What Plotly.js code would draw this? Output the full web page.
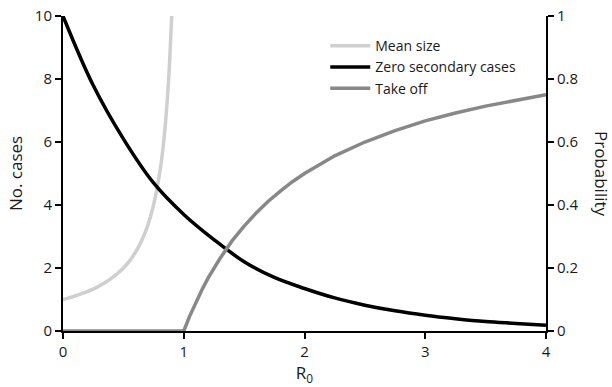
<!DOCTYPE html>
<html><head><meta charset="utf-8">
<script src="https://cdn.plot.ly/plotly-3.0.1.min.js"></script>
<style>body{margin:0;background:#fff}#c{width:612px;height:387px}</style>
</head><body><div id="c"></div>
<script>
// Mean size (left axis, No. cases)
const meanR0 = [0, 0.05, 0.1, 0.15, 0.2, 0.25, 0.3, 0.35, 0.4, 0.45, 0.5, 0.55, 0.6, 0.65, 0.7, 0.75, 0.8, 0.825, 0.85, 0.875, 0.9];
const meanSize = [1.0, 1.05, 1.11, 1.18, 1.25, 1.33, 1.43, 1.54, 1.67, 1.82, 2.0, 2.22, 2.5, 2.86, 3.33, 4.0, 5.0, 5.7, 6.67, 8.0, 10.0];
// Zero secondary cases (right axis, probability)
const zeroR0 = [0, 0.25, 0.5, 0.75, 1, 1.25, 1.5, 1.75, 2, 2.25, 2.5, 2.75, 3, 3.25, 3.5, 3.75, 4];
const zeroProb = [1.0, 0.78, 0.61, 0.47, 0.37, 0.29, 0.22, 0.17, 0.135, 0.105, 0.082, 0.064, 0.05, 0.039, 0.03, 0.024, 0.018];
// Take off (right axis, probability)
const takeR0 = [0, 0.5, 1, 1.05, 1.1, 1.15, 1.2, 1.3, 1.4, 1.5, 1.6, 1.7, 1.8, 1.9, 2, 2.25, 2.5, 2.75, 3, 3.25, 3.5, 3.75, 4];
const takeProb = [0, 0, 0, 0.048, 0.09, 0.13, 0.167, 0.23, 0.286, 0.333, 0.375, 0.412, 0.444, 0.474, 0.5, 0.556, 0.6, 0.636, 0.667, 0.692, 0.714, 0.733, 0.75];

const fam = 'Open Sans, Liberation Sans, sans-serif';
const font = {family: fam, color: '#1a1a1a', size: 15};

const traces = [
  {x: meanR0, y: meanSize, name: 'Mean size', mode: 'lines', line: {color: '#cfcfcf', width: 3.5, shape: 'spline'}, yaxis: 'y'},
  {x: zeroR0, y: zeroProb, name: 'Zero secondary cases', mode: 'lines', line: {color: '#000000', width: 3.5, shape: 'spline'}, yaxis: 'y2'},
  {x: takeR0, y: takeProb, name: 'Take off', mode: 'lines', line: {color: '#888888', width: 3.5, shape: 'linear'}, yaxis: 'y2'}
];

const axisCommon = {showgrid: false, zeroline: false, showline: true, linecolor: '#000', linewidth: 2,
  ticks: 'outside', ticklen: 6, tickwidth: 2, tickcolor: '#000', tickfont: font, layer: 'below traces'};

const layout = {
  width: 612, height: 387,
  margin: {l: 63, r: 66, t: 16, b: 56},
  paper_bgcolor: '#fff', plot_bgcolor: '#fff',
  font: font,
  showlegend: true,
  legend: {x: 0.543, y: 0.955, xanchor: 'left', yanchor: 'top', bgcolor: 'rgba(0,0,0,0)',
    font: {family: fam, size: 14, color: '#1a1a1a'}, tracegroupgap: 0, itemwidth: 40},
  xaxis: Object.assign({}, axisCommon, {range: [0, 4], dtick: 1, tick0: 0,
    title: {text: 'R<sub>0</sub>', font: {family: fam, size: 17, color: '#1a1a1a'}, standoff: 2}}),
  yaxis: Object.assign({}, axisCommon, {range: [0, 10], dtick: 2, tick0: 0,
    title: {text: 'No. cases', font: {family: fam, size: 17, color: '#1a1a1a'}, standoff: 8}}),
  yaxis2: Object.assign({}, axisCommon, {range: [0, 1], dtick: 0.2, tick0: 0, overlaying: 'y', side: 'right'}),
  annotations: [{text: 'Probability', xref: 'paper', yref: 'paper', x: 1.115, y: 0.5, showarrow: false,
    textangle: 90, font: {family: fam, size: 17, color: '#1a1a1a'}, xanchor: 'center', yanchor: 'middle'}]
};

Plotly.newPlot('c', traces, layout, {displayModeBar: false, staticPlot: true});
</script>
</body></html>
